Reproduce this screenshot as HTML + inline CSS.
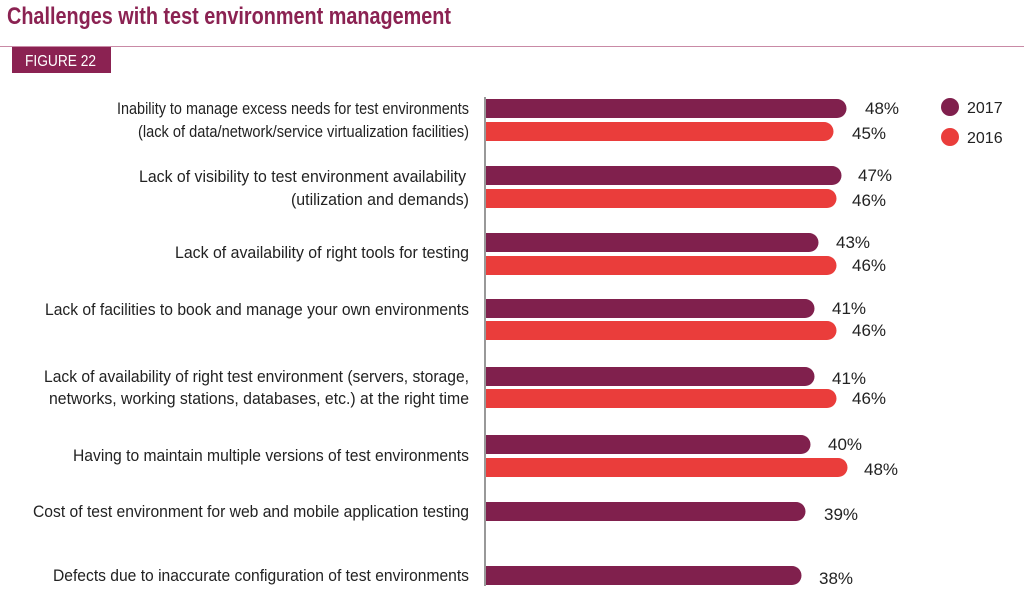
<!DOCTYPE html>
<html><head><meta charset="utf-8"><style>
html,body{margin:0;padding:0;background:#fff;}
svg{display:block;font-family:"Liberation Sans",Arial,sans-serif;}
</style></head><body>
<svg width="1024" height="607" viewBox="0 0 1024 607" xmlns="http://www.w3.org/2000/svg">
<text x="7" y="24" font-size="24" font-weight="bold" fill="#8b2252" textLength="444" lengthAdjust="spacingAndGlyphs">Challenges with test environment management</text>
<line x1="0" y1="46.5" x2="1024" y2="46.5" stroke="#c98aa6" stroke-width="1"/>
<rect x="12" y="47" width="99" height="26" fill="#8b2252"/>
<text x="25" y="66" font-size="16" fill="#fff" textLength="71" lengthAdjust="spacingAndGlyphs">FIGURE 22</text>
<line x1="485" y1="97" x2="485" y2="586" stroke="#555" stroke-width="1.2"/>
<g font-size="17" fill="#222" text-anchor="end">
<text x="469" y="114" textLength="352" lengthAdjust="spacingAndGlyphs">Inability to manage excess needs for test environments</text>
<text x="469" y="137" textLength="331" lengthAdjust="spacingAndGlyphs">(lack of data/network/service virtualization facilities)</text>
<text x="466" y="182" textLength="327" lengthAdjust="spacingAndGlyphs">Lack of visibility to test environment availability</text>
<text x="469" y="205" textLength="178" lengthAdjust="spacingAndGlyphs">(utilization and demands)</text>
<text x="469" y="258" textLength="294" lengthAdjust="spacingAndGlyphs">Lack of availability of right tools for testing</text>
<text x="469" y="315" textLength="424" lengthAdjust="spacingAndGlyphs">Lack of facilities to book and manage your own environments</text>
<text x="469" y="382" textLength="425" lengthAdjust="spacingAndGlyphs">Lack of availability of right test environment (servers, storage,</text>
<text x="469" y="404" textLength="420" lengthAdjust="spacingAndGlyphs">networks, working stations, databases, etc.) at the right time</text>
<text x="469" y="461" textLength="396" lengthAdjust="spacingAndGlyphs">Having to maintain multiple versions of test environments</text>
<text x="469" y="517" textLength="436" lengthAdjust="spacingAndGlyphs">Cost of test environment for web and mobile application testing</text>
<text x="469" y="581" textLength="416" lengthAdjust="spacingAndGlyphs">Defects due to inaccurate configuration of test environments</text>
</g>
<g>
<path d="M486 99 H837 A9.5 9.5 0 0 1 837 118 H486 Z" fill="#80204d"/>
<path d="M486 122 H824 A9.5 9.5 0 0 1 824 141 H486 Z" fill="#ea3d3b"/>
<path d="M486 166 H832 A9.5 9.5 0 0 1 832 185 H486 Z" fill="#80204d"/>
<path d="M486 189 H827 A9.5 9.5 0 0 1 827 208 H486 Z" fill="#ea3d3b"/>
<path d="M486 233 H809 A9.5 9.5 0 0 1 809 252 H486 Z" fill="#80204d"/>
<path d="M486 256 H827 A9.5 9.5 0 0 1 827 275 H486 Z" fill="#ea3d3b"/>
<path d="M486 299 H805 A9.5 9.5 0 0 1 805 318 H486 Z" fill="#80204d"/>
<path d="M486 321 H827 A9.5 9.5 0 0 1 827 340 H486 Z" fill="#ea3d3b"/>
<path d="M486 367 H805 A9.5 9.5 0 0 1 805 386 H486 Z" fill="#80204d"/>
<path d="M486 389 H827 A9.5 9.5 0 0 1 827 408 H486 Z" fill="#ea3d3b"/>
<path d="M486 435 H801 A9.5 9.5 0 0 1 801 454 H486 Z" fill="#80204d"/>
<path d="M486 458 H838 A9.5 9.5 0 0 1 838 477 H486 Z" fill="#ea3d3b"/>
<path d="M486 502 H796 A9.5 9.5 0 0 1 796 521 H486 Z" fill="#80204d"/>
<path d="M486 566 H792 A9.5 9.5 0 0 1 792 585 H486 Z" fill="#80204d"/>
</g>
<g font-size="17" fill="#222">
<text x="865" y="114">48%</text>
<text x="852" y="139">45%</text>
<text x="858" y="181">47%</text>
<text x="852" y="206">46%</text>
<text x="836" y="248">43%</text>
<text x="852" y="271">46%</text>
<text x="832" y="314">41%</text>
<text x="852" y="336">46%</text>
<text x="832" y="384">41%</text>
<text x="852" y="404">46%</text>
<text x="828" y="450">40%</text>
<text x="864" y="475">48%</text>
<text x="824" y="520">39%</text>
<text x="819" y="584">38%</text>
</g>
<circle cx="950" cy="107" r="9" fill="#80204d"/>
<circle cx="950" cy="137" r="9" fill="#ea3d3b"/>
<g font-size="16" fill="#222">
<text x="967" y="113">2017</text>
<text x="967" y="143">2016</text>
</g>
</svg>
</body></html>
